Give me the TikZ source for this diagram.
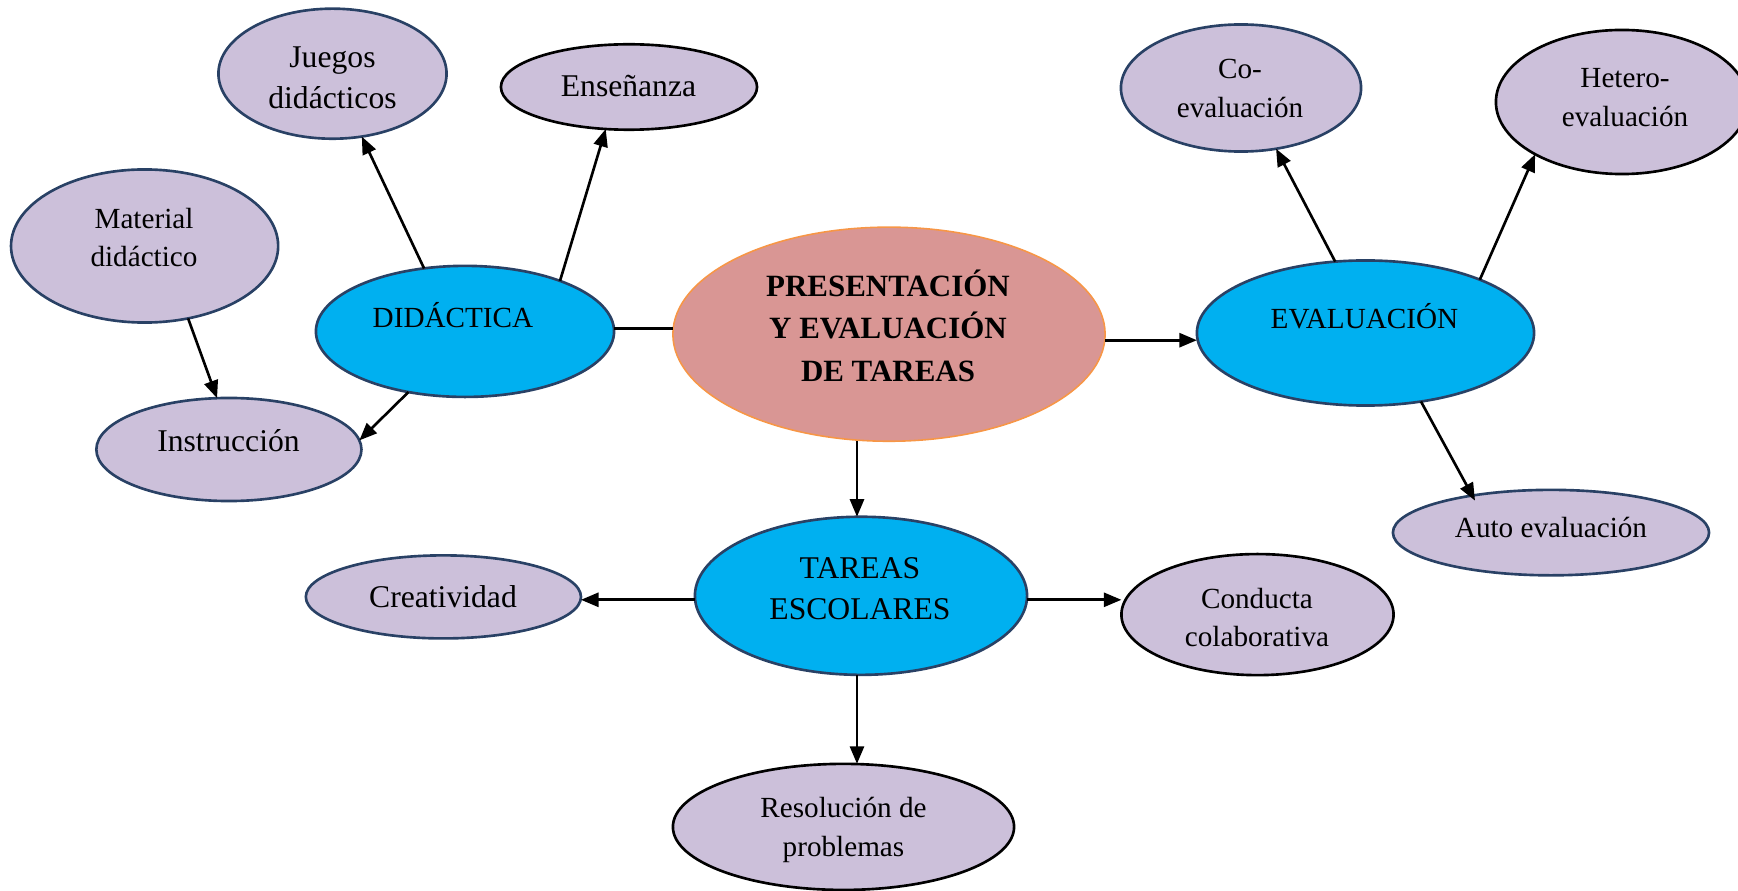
\documentclass[tikz,border=0pt]{standalone}
\usepackage{fontspec}
\setmainfont{Liberation Serif}
\usetikzlibrary{shapes.geometric,arrows.meta}
\definecolor{lav}{RGB}{204,192,218}
\definecolor{dkb}{RGB}{41,65,101}
\definecolor{cyanf}{RGB}{0,176,240}
\definecolor{rosef}{RGB}{217,150,148}
\definecolor{orb}{RGB}{247,150,70}
\begin{document}
\begin{tikzpicture}[x=0.01cm,y=-0.01cm,
 bub/.style={ellipse,inner sep=0pt,outer sep=0pt,line width=0.75pt},
 leaf/.style={bub,fill=lav,draw=dkb},
 leafk/.style={bub,fill=lav,draw=black},
 hub/.style={bub,fill=cyanf,draw=dkb},
 core/.style={bub,fill=rosef,draw=orb,line width=0.45pt},
 big/.style={font=\fontsize{9}{11.7}\selectfont,align=center,inner sep=0pt},
 sml/.style={font=\fontsize{8.3}{11}\selectfont,align=center,inner sep=0pt},
 arr/.style={line width=0.75pt,-{Triangle[length=5pt,width=4pt]}},
 ln/.style={line width=0.75pt}]
\useasboundingbox (0,0) rectangle (1738,891);
% ellipses
\node[leaf, minimum width=22.8mm, minimum height=13.0mm] (jue) at (332.5,73.7) {};
\node[leafk,minimum width=25.6mm, minimum height=8.54mm] (ens) at (629,87) {};
\node[leaf, minimum width=26.7mm, minimum height=15.3mm] (mat) at (144.6,246) {};
\node[hub,  minimum width=29.8mm, minimum height=13.1mm] (did) at (465,331.4) {};
\node[leaf, minimum width=26.5mm, minimum height=10.3mm] (ins) at (228.9,449.5) {};
\node[core, minimum width=43.2mm, minimum height=21.4mm] (cen) at (889,334.2) {};
\node[hub,  minimum width=33.7mm, minimum height=14.5mm] (eva) at (1365.5,333) {};
\node[leaf, minimum width=24.0mm, minimum height=12.7mm] (coe) at (1241,88) {};
\node[leafk,minimum width=25.2mm, minimum height=14.4mm] (het) at (1622,102) {};
\node[leaf, minimum width=31.6mm, minimum height=8.54mm] (aut) at (1551,532.6) {};
\node[hub,  minimum width=33.2mm, minimum height=15.8mm] (tar) at (861,595.8) {};
\node[leaf, minimum width=27.5mm, minimum height=8.3mm] (cre) at (443.4,596.9) {};
\node[leafk,minimum width=27.2mm, minimum height=12.1mm] (con) at (1257.5,614.6) {};
\node[leafk,minimum width=34.1mm, minimum height=12.6mm] (res) at (843.5,826.9) {};
% texts
\node[big] (jueT) at (332.5,77.5) {Juegos\\didácticos};
\node[big] (ensT) at (628.5,86) {Enseñanza};
\node[sml] (matT) at (144,237.5) {Material\\didáctico};
\node[sml] (didT) at (453,315.5) {DIDÁCTICA};
\node[big] (insT) at (228.5,440.5) {Instrucción};
\node[font=\bfseries\fontsize{8.8}{12.1}\selectfont,align=center,inner sep=0pt] (cenT) at (888,325.5) {PRESENTACIÓN\\Y EVALUACIÓN\\DE TAREAS};
\node[sml] (evaT) at (1364.5,316.5) {EVALUACIÓN};
\node[sml] (coeT) at (1240,88.5) {Co-\\evaluación};
\node[sml] (hetT) at (1625,97.5) {Hetero-\\evaluación};
\node[sml] (autT) at (1551,527.5) {Auto evaluación};
\node[big] (tarT) at (860,588.5) {TAREAS\\ESCOLARES};
\node[big] (creT) at (443,596.5) {Creatividad};
\node[sml] (conT) at (1257,617.5) {Conducta\\colaborativa};
\node[sml] (resT) at (843.5,830) {Resolución de\\problemas};
% connectors
\draw[arr] (did.123) -- (jue.-65);
\draw[arr] (did.28) -- (ens.-119);
\draw[arr] (mat.-59) -- (ins.103);
\draw[arr] (did.-133) -- (ins.4);
\draw[ln] ([yshift=0.3mm]did.east) -- ([yshift=0.3mm]did.east -| cen.west);
\draw[arr] ([yshift=-0.6mm]cen.east) -- ([yshift=-0.6mm]cen.east -| eva.west);
\draw[arr] (eva.113) -- (coe.-60);
\draw[arr] (eva.25) -- (het.-149);
\draw[arr] (eva.-51) -- ([shift={(-76,-32)}]aut.center);
\draw[arr] ([xshift=-0.4mm]tar.north |- cen.south) -- ([xshift=-0.4mm]tar.north);
\draw[arr] ([yshift=-0.4mm]tar.west) -- ([yshift=-0.4mm]tar.west -| cre.east);
\draw[arr] ([yshift=-0.4mm]tar.east) -- ([yshift=-0.4mm]tar.east -| con.west);
\draw[arr] ([xshift=-0.4mm]tar.south) -- ([xshift=-0.4mm]tar.south |- res.north);
\end{tikzpicture}
\end{document}
